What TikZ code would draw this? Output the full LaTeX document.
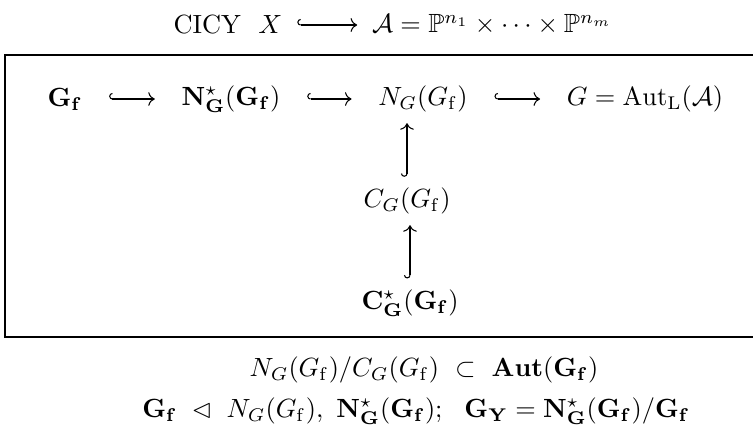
\documentclass[tikz,border=0pt]{standalone}
\usepackage{amsmath,amssymb}
\usetikzlibrary{arrows.meta,positioning}

\begin{document}
\begin{tikzpicture}[x=0.38pt,y=-0.38pt,
  every node/.style={inner sep=1pt},
  hook/.style={{Hooks[right]}-To, line width=0.4pt, shorten <=9pt, shorten >=9pt},
  vhook/.style={{Hooks[right]}-To, line width=0.4pt, shorten <=3pt, shorten >=3pt}]
  \useasboundingbox (0,0) rectangle (753,447);
  % ambient space
  \node (cicy) at (228,25) {CICY\ \ $X$};
  \node (amb) at (492,25) {$\mathcal{A}=\mathbb{P}^{n_1}\times\cdots\times\mathbb{P}^{n_m}$};
  \draw[hook, shorten <=4.5pt, shorten >=4.5pt] (cicy) -- (amb);
  % frame, open to the right
  \draw[line width=0.8pt] (760,55) -- (5,55) -- (5,337) -- (760,337);
  % chain of subgroups
  \node (gf) at (65,99) {$\mathbf{G_f}$};
  \node (nstar) at (231,99) {$\mathbf{N^{\star}_G(G_f)}$};
  \node (ng) at (423,99) {$N_G(G_\mathrm{f})$};
  \node (aut) at (645,99) {$G=\mathrm{Aut}_\mathrm{L}(\mathcal{A})$};
  \draw[hook] (gf) -- (nstar);
  \draw[hook] (nstar) -- (ng);
  \draw[hook] (ng) -- (aut);
  % centralisers
  \node (cg) at (407,201) {$C_G(G_\mathrm{f})$};
  \node (cstar) at (410,303) {$\mathbf{C^{\star}_G(G_f)}$};
  \draw[vhook] (cg.north) -- (cg.north |- ng.south);
  \draw[vhook] (cstar.north) -- (cstar.north |- cg.south);
  % relations under the frame
  \node (quot) at (424,370) {$N_G(G_\mathrm{f})/C_G(G_\mathrm{f})\ \subset\ \mathbf{Aut(G_f)}$};
  \node (norm) at (416,411) {$\mathbf{G_f}\ \lhd\ N_G(G_\mathrm{f}),\ \mathbf{N^{\star}_G(G_f)};\ \ \mathbf{G_Y}=\mathbf{N^{\star}_G(G_f)}/\mathbf{G_f}$};
\end{tikzpicture}
\end{document}
